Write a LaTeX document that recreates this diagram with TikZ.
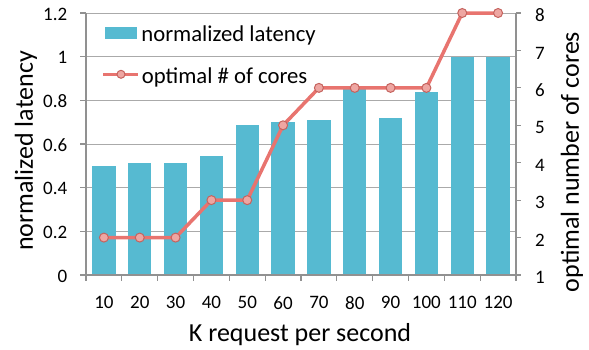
\documentclass[tikz,border=0pt]{standalone}
\usepackage{fontspec}
\setmainfont{Carlito}
\usepackage{tikz}
\usetikzlibrary{positioning}
\definecolor{barblue}{RGB}{86,186,209}
\definecolor{linered}{RGB}{232,116,111}
\definecolor{markfill}{RGB}{238,166,162}
\definecolor{gridgray}{RGB}{170,170,170}
\definecolor{axisgray}{RGB}{145,145,145}

\begin{document}
\begin{tikzpicture}[x=1pt,y=1pt,
    ticklab/.style={font=\fontsize{19pt}{22pt}\selectfont, inner sep=2pt},
    legtext/.style={font=\fontsize{22.7pt}{26pt}\selectfont, inner sep=0pt},
    axtitle/.style={font=\fontsize{26pt}{30pt}\selectfont, inner sep=0pt},
    bar/.style={fill=barblue},
    grid line/.style={draw=gridgray, line width=1pt},
    axis line/.style={draw=axisgray, line width=1.2pt},
    series/.style={draw=linered, line width=3.5pt, line join=round},
    marker/.style={circle, draw=linered!85!black, fill=markfill, line width=1pt,
                   inner sep=0pt, minimum size=9pt}]
\useasboundingbox (0,0) rectangle (589,349);

\begin{scope}[shift={(86pt,74pt)}, x=35.833pt, y=218.33pt]
    % grid
    \draw[grid line] (0,0.2) -- (12,0.2);
    \draw[grid line] (0,0.4) -- (12,0.4);
    \draw[grid line] (0,0.6) -- (12,0.6);
    \draw[grid line] (0,0.8) -- (12,0.8);
    \draw[grid line] (0,1.0) -- (12,1.0);
    \draw[grid line] (0,1.2) -- (12,1.2);

    % latency bars
    \fill[bar] (0.175,0) rectangle (0.825,0.500);
    \fill[bar] (1.175,0) rectangle (1.825,0.513);
    \fill[bar] (2.175,0) rectangle (2.825,0.513);
    \fill[bar] (3.175,0) rectangle (3.825,0.545);
    \fill[bar] (4.175,0) rectangle (4.825,0.687);
    \fill[bar] (5.175,0) rectangle (5.825,0.700);
    \fill[bar] (6.175,0) rectangle (6.825,0.711);
    \fill[bar] (7.175,0) rectangle (7.825,0.856);
    \fill[bar] (8.175,0) rectangle (8.825,0.718);
    \fill[bar] (9.175,0) rectangle (9.825,0.840);
    \fill[bar] (10.175,0) rectangle (10.825,1.000);
    \fill[bar] (11.175,0) rectangle (11.825,1.000);

    % axes and ticks
    \draw[axis line] (0,0) -- (0,1.2);
    \draw[axis line] (12,0) -- (12,1.2);
    \draw[axis line] (0,0) -- (12,0);
    \foreach \v in {0,0.2,0.4,0.6,0.8,1.0,1.2}
        \draw[axis line] (0,\v) -- ++(-6pt,0);
    \foreach \c in {1,...,8}
        \draw[axis line] (12,{(\c-1)*1.2/7}) -- ++(5pt,0);
    \foreach \i in {0,...,12}
        \draw[axis line] (\i,0) -- ++(0,-6pt);

    % cores (right axis 1..8 on 0..1.2)
    \coordinate (c1) at (0.5,0.1714);
    \coordinate (c2) at (1.5,0.1714);
    \coordinate (c3) at (2.5,0.1714);
    \coordinate (c4) at (3.5,0.3429);
    \coordinate (c5) at (4.5,0.3429);
    \coordinate (c6) at (5.5,0.6857);
    \coordinate (c7) at (6.5,0.8571);
    \coordinate (c8) at (7.5,0.8571);
    \coordinate (c9) at (8.5,0.8571);
    \coordinate (c10) at (9.5,0.8571);
    \coordinate (c11) at (10.5,1.2);
    \coordinate (c12) at (11.5,1.2);
    \draw[series] (c1) -- (c2) -- (c3) -- (c4) -- (c5) -- (c6) -- (c7)
        -- (c8) -- (c9) -- (c10) -- (c11) -- (c12);
    \node[marker] (m1) at (c1) {};
    \node[marker] (m2) at (c2) {};
    \node[marker] (m3) at (c3) {};
    \node[marker] (m4) at (c4) {};
    \node[marker] (m5) at (c5) {};
    \node[marker] (m6) at (c6) {};
    \node[marker] (m7) at (c7) {};
    \node[marker] (m8) at (c8) {};
    \node[marker] (m9) at (c9) {};
    \node[marker] (m10) at (c10) {};
    \node[marker] (m11) at (c11) {};
    \node[marker] (m12) at (c12) {};

    % left labels
    \node[ticklab, anchor=east, xshift=-16.5pt, yshift=-1pt] (l0) at (0,0) {0};
    \node[ticklab, anchor=east, xshift=-16.5pt, yshift=-1pt] (l1) at (0,0.2) {0.2};
    \node[ticklab, anchor=east, xshift=-16.5pt, yshift=-1pt] (l2) at (0,0.4) {0.4};
    \node[ticklab, anchor=east, xshift=-16.5pt, yshift=-1pt] (l3) at (0,0.6) {0.6};
    \node[ticklab, anchor=east, xshift=-16.5pt, yshift=-1pt] (l4) at (0,0.8) {0.8};
    \node[ticklab, anchor=east, xshift=-16.5pt, yshift=-1pt] (l5) at (0,1.0) {1};
    \node[ticklab, anchor=east, xshift=-16.5pt, yshift=-1pt] (l6) at (0,1.2) {1.2};

    % right labels
    \node[ticklab, anchor=west, xshift=17pt, yshift=-2.5pt] (r1) at (12,0) {1};
    \node[ticklab, anchor=west, xshift=17pt, yshift=-2.5pt] (r2) at (12,0.1714) {2};
    \node[ticklab, anchor=west, xshift=17pt, yshift=-2.5pt] (r3) at (12,0.3429) {3};
    \node[ticklab, anchor=west, xshift=17pt, yshift=-2.5pt] (r4) at (12,0.5143) {4};
    \node[ticklab, anchor=west, xshift=17pt, yshift=-2.5pt] (r5) at (12,0.6857) {5};
    \node[ticklab, anchor=west, xshift=17pt, yshift=-2.5pt] (r6) at (12,0.8571) {6};
    \node[ticklab, anchor=west, xshift=17pt, yshift=-2.5pt] (r7) at (12,1.0286) {7};
    \node[ticklab, anchor=west, xshift=17pt, yshift=-2.5pt] (r8) at (12,1.2) {8};

    % bottom labels
    \node[ticklab, yshift=-27.7pt] (b1) at (0.5,0) {10};
    \node[ticklab, yshift=-27.7pt] (b2) at (1.5,0) {20};
    \node[ticklab, yshift=-27.7pt] (b3) at (2.5,0) {30};
    \node[ticklab, yshift=-27.7pt] (b4) at (3.5,0) {40};
    \node[ticklab, yshift=-27.7pt] (b5) at (4.5,0) {50};
    \node[ticklab, yshift=-27.7pt] (b6) at (5.5,0) {60};
    \node[ticklab, yshift=-27.7pt] (b7) at (6.5,0) {70};
    \node[ticklab, yshift=-27.7pt] (b8) at (7.5,0) {80};
    \node[ticklab, yshift=-27.7pt] (b9) at (8.5,0) {90};
    \node[ticklab, yshift=-27.7pt] (b10) at (9.5,0) {100};
    \node[ticklab, yshift=-27.7pt] (b11) at (10.5,0) {110};
    \node[ticklab, yshift=-27.7pt] (b12) at (11.5,0) {120};
\end{scope}

% legend
\node[bar, inner sep=0pt, minimum width=32pt, minimum height=12.3pt] (barkey) at (121,316.2) {};
\node[legtext, anchor=base west] (latkey) at ([xshift=4pt,yshift=-2pt]barkey.south east) {normalized latency};
\coordinate (keymid) at (121,274.7);
\coordinate[left=18pt of keymid] (keyL);
\coordinate[right=17pt of keymid] (keyR);
\draw[series] (keyL) -- (keyR);
\node[marker, minimum size=8pt] (keymark) at (keymid) {};
\node[legtext, anchor=base west] (corekey) at ([xshift=3.7pt,yshift=-8.7pt]keyR) {optimal \# of cores};

% axis titles
\node[axtitle] (xtitle) at (300,14.5) {K request per second};
\node[axtitle, rotate=90] (ytitle) at (26,198) {normalized latency};
\node[axtitle, rotate=90] (y2title) at (572,187) {optimal number of cores};
\end{tikzpicture}
\end{document}
